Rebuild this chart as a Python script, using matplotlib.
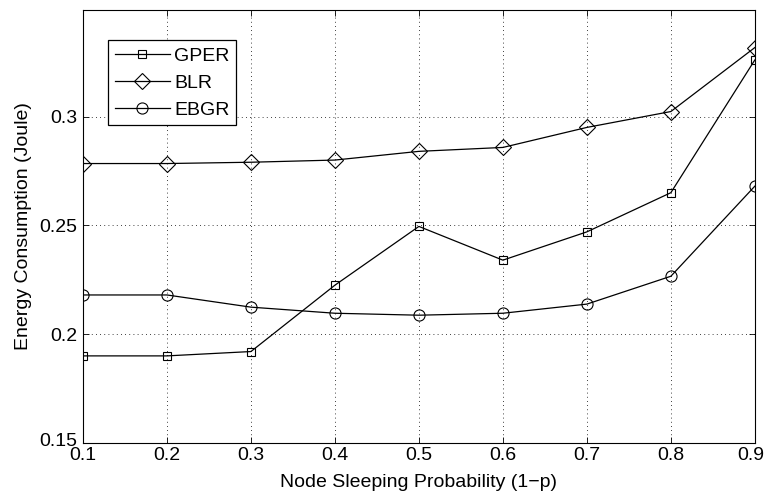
import matplotlib
matplotlib.use("Agg")
import matplotlib.pyplot as plt
import matplotlib.transforms as mtransforms
import numpy as np

plt.rcParams['font.family'] = ['Liberation Sans', 'DejaVu Sans']

# datos
prob = [0.1, 0.2, 0.3, 0.4, 0.5, 0.6, 0.7, 0.8, 0.9]
gper = [0.190, 0.190, 0.192, 0.2225, 0.2495, 0.234, 0.247, 0.265, 0.326]
blr = [0.2784, 0.2784, 0.279, 0.280, 0.284, 0.2858, 0.295, 0.3023, 0.3317]
ebgr = [0.218, 0.218, 0.2124, 0.2096, 0.2087, 0.2096, 0.2138, 0.2266, 0.268]

fig = plt.figure(figsize=(7.64, 4.96), dpi=100)
ax = fig.add_axes([0.1086, 0.107, 0.8794, 0.873])

ax.plot(prob, gper, 'k-s', lw=0.9, ms=6, mfc='none', mew=0.8, label='GPER')
ax.plot(prob, blr, 'k-D', lw=0.9, ms=8, mfc='none', mew=0.8, label='BLR')
ax.plot(prob, ebgr, 'k-o', lw=0.9, ms=8, mfc='none', mew=0.8, label='EBGR')

ax.set_xlim(0.1, 0.9)
ax.set_ylim(0.15, 0.349)
ax.set_xticks(np.arange(0.1, 0.91, 0.1))
ax.set_xticklabels(['0.1', '0.2', '0.3', '0.4', '0.5', '0.6', '0.7', '0.8', '0.9'])
ax.set_yticks([0.15, 0.2, 0.25, 0.3])
ax.set_yticklabels(['0.15', '0.2', '0.25', '0.3'])
ax.tick_params(direction='in', length=4, labelsize=14, top=True, right=True, width=0.6)
ax.tick_params(axis='x', pad=3)
ax.tick_params(axis='y', pad=4)
ax.grid(True, color='k', linestyle=(0, (1, 4)), linewidth=0.6)
for s in ax.spines.values():
    s.set_linewidth(0.8)

# pequenos ajustes para que 0.15 no pise a 0.1 y 0.9 no se corte
lab = ax.get_yticklabels()[0]
lab.set_transform(lab.get_transform() + mtransforms.ScaledTranslation(0, 3/100, fig.dpi_scale_trans))
lab = ax.get_xticklabels()[-1]
lab.set_transform(lab.get_transform() + mtransforms.ScaledTranslation(-4/100, 0, fig.dpi_scale_trans))

ax.set_xlabel('Node Sleeping Probability (1\u2212p)', fontsize=14, labelpad=7)
ax.set_ylabel('Energy Consumption (Joule)', fontsize=14, labelpad=5)

leg = ax.legend(loc='upper left', bbox_to_anchor=(0.037, 0.93), fontsize=14,
                handlelength=2.85, fancybox=False, framealpha=1, borderpad=0.35,
                labelspacing=0.48, handletextpad=0.2, borderaxespad=0)
leg.get_frame().set_edgecolor('k')
leg.get_frame().set_linewidth(0.9)

fig.savefig('out.png', dpi=100)
